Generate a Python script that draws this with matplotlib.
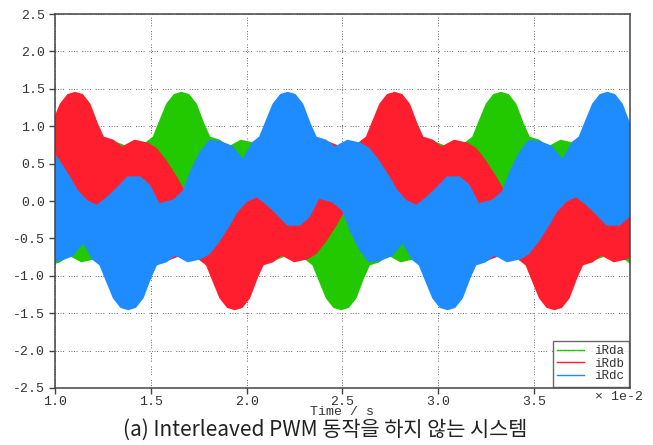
import numpy as np
import matplotlib
matplotlib.use("Agg")
import matplotlib.pyplot as plt
from matplotlib.lines import Line2D

plt.rcParams['axes.unicode_minus'] = False

# envelope of each switched current (time in 1e-2 s), upper and lower edges
ia_up_t = [0.94, 0.99, 1.06, 1.11, 1.15, 1.20, 1.25, 1.31, 1.37, 1.425, 1.475, 1.51, 1.54, 1.58, 1.62, 1.66,
           1.70, 1.74, 1.78, 1.81, 1.86, 1.905, 1.97, 2.04, 2.085, 2.135, 2.19, 2.23, 2.28, 2.33, 2.38, 2.43,
           2.49, 2.557, 2.607, 2.657, 2.727, 2.777, 2.817, 2.867, 2.917, 2.977, 3.037, 3.092, 3.142, 3.177,
           3.207, 3.247, 3.287, 3.327, 3.367, 3.407, 3.447, 3.477, 3.527, 3.572, 3.637, 3.707, 3.752, 3.802,
           3.857, 3.897, 3.947, 3.997, 4.047]
ia_up_v = [0.22, -0.03, 0.02, 0.13, 0.40, 0.66, 0.82, 0.80, 0.74, 0.57, 0.79, 0.86, 1.05, 1.30, 1.43, 1.46,
           1.43, 1.30, 1.03, 0.86, 0.82, 0.73, 0.82, 0.78, 0.71, 0.55, 0.33, 0.15, 0.01, -0.05, 0.05, 0.17,
           0.33, 0.33, 0.22, -0.03, 0.02, 0.13, 0.40, 0.66, 0.82, 0.80, 0.74, 0.57, 0.79, 0.86,
           1.05, 1.30, 1.43, 1.46, 1.43, 1.30, 1.03, 0.86, 0.82, 0.73, 0.82, 0.78, 0.71, 0.55,
           0.33, 0.15, 0.01, -0.05, 0.05]
ia_lo_t = [0.947, 0.977, 1.027, 1.072, 1.137, 1.207, 1.252, 1.302, 1.357, 1.397, 1.447, 1.497, 1.547, 1.597,
           1.657, 1.723, 1.773, 1.823, 1.893, 1.943, 1.983, 2.033, 2.083, 2.143, 2.203, 2.258, 2.308, 2.343,
           2.373, 2.413, 2.453, 2.493, 2.533, 2.573, 2.613, 2.643, 2.693, 2.738, 2.803, 2.873, 2.918, 2.968,
           3.023, 3.063, 3.113, 3.163, 3.213, 3.263, 3.323, 3.39, 3.44, 3.49, 3.56, 3.61, 3.65, 3.70, 3.75,
           3.81, 3.87, 3.925, 3.975, 4.01]
ia_lo_v = [-1.03, -0.86, -0.82, -0.73, -0.82, -0.78, -0.71, -0.55, -0.33, -0.15, -0.01, 0.05, -0.05, -0.17,
           -0.33, -0.33, -0.22, 0.03, -0.02, -0.13, -0.40, -0.66, -0.82, -0.80, -0.74, -0.57, -0.79, -0.86,
           -1.05, -1.30, -1.43, -1.46, -1.43, -1.30, -1.03, -0.86, -0.82, -0.73, -0.82, -0.78, -0.71, -0.55,
           -0.33, -0.15, -0.01, 0.05, -0.05, -0.17, -0.33, -0.33, -0.22, 0.03, -0.02, -0.13, -0.40, -0.66, -0.82,
           -0.80, -0.74, -0.57, -0.79, -0.86]

ib_up_t = [0.955, 0.985, 1.025, 1.065, 1.105, 1.145, 1.185, 1.225, 1.255, 1.305, 1.35, 1.415, 1.485, 1.53,
           1.58, 1.635, 1.675, 1.725, 1.775, 1.825, 1.875, 1.935, 2.002, 2.052, 2.102, 2.172, 2.222, 2.262,
           2.312, 2.362, 2.422, 2.482, 2.537, 2.587, 2.622, 2.652, 2.692, 2.732, 2.772, 2.812, 2.852, 2.892,
           2.922, 2.972, 3.017, 3.082, 3.152, 3.197, 3.247, 3.302, 3.342, 3.392, 3.442, 3.492, 3.542, 3.602,
           3.669, 3.719, 3.769, 3.839, 3.889, 3.929, 3.979, 4.029]
ib_up_v = [0.86, 1.05, 1.30, 1.43, 1.46, 1.43, 1.30, 1.03, 0.86, 0.82, 0.73, 0.82, 0.78, 0.71,
           0.55, 0.33, 0.15, 0.01, -0.05, 0.05, 0.17, 0.33, 0.33, 0.22, -0.03, 0.02, 0.13, 0.40,
           0.66, 0.82, 0.80, 0.74, 0.57, 0.79, 0.86, 1.05, 1.30, 1.43, 1.46, 1.43, 1.30, 1.03,
           0.86, 0.82, 0.73, 0.82, 0.78, 0.71, 0.55, 0.33, 0.15, 0.01, -0.05, 0.05, 0.17, 0.33,
           0.33, 0.22, -0.03, 0.02, 0.13, 0.40, 0.66, 0.82]
ib_lo_t = [0.942, 0.992, 1.042, 1.102, 1.168, 1.218, 1.268, 1.338, 1.388, 1.428, 1.478, 1.528, 1.588, 1.648,
           1.703, 1.753, 1.788, 1.818, 1.858, 1.898, 1.938, 1.978, 2.018, 2.058, 2.088, 2.138, 2.183, 2.248,
           2.318, 2.363, 2.413, 2.468, 2.508, 2.558, 2.608, 2.658, 2.708, 2.768, 2.835, 2.885, 2.935, 3.005,
           3.055, 3.095, 3.145, 3.195, 3.255, 3.315, 3.37, 3.42, 3.455, 3.485, 3.525, 3.565, 3.605, 3.645,
           3.685, 3.725, 3.755, 3.805, 3.85, 3.915, 3.985, 4.03]
ib_lo_v = [0.05, -0.05, -0.17, -0.33, -0.33, -0.22, 0.03, -0.02, -0.13, -0.40, -0.66, -0.82, -0.80, -0.74,
           -0.57, -0.79, -0.86, -1.05, -1.30, -1.43, -1.46, -1.43, -1.30, -1.03, -0.86, -0.82, -0.73, -0.82,
           -0.78, -0.71, -0.55, -0.33, -0.15, -0.01, 0.05, -0.05, -0.17, -0.33, -0.33, -0.22, 0.03, -0.02,
           -0.13, -0.40, -0.66, -0.82, -0.80, -0.74, -0.57, -0.79, -0.86, -1.05, -1.30, -1.43, -1.46, -1.43,
           -1.30, -1.03, -0.86, -0.82, -0.73, -0.82, -0.78, -0.71]

ic_up_t = [0.928, 0.973, 1.023, 1.078, 1.118, 1.168, 1.218, 1.268, 1.318, 1.378, 1.445, 1.495, 1.545, 1.615,
           1.665, 1.705, 1.755, 1.805, 1.865, 1.925, 1.98, 2.03, 2.065, 2.095, 2.135, 2.175, 2.215, 2.255,
           2.295, 2.335, 2.365, 2.415, 2.46, 2.525, 2.595, 2.64, 2.69, 2.745, 2.785, 2.835, 2.885, 2.935,
           2.985, 3.045, 3.112, 3.162, 3.212, 3.282, 3.332, 3.372, 3.422, 3.472, 3.532, 3.592, 3.647, 3.697,
           3.732, 3.762, 3.802, 3.842, 3.882, 3.922, 3.962, 4.002, 4.032]
ic_up_v = [0.78, 0.71, 0.55, 0.33, 0.15, 0.01, -0.05, 0.05, 0.17, 0.33, 0.33, 0.22, -0.03, 0.02,
           0.13, 0.40, 0.66, 0.82, 0.80, 0.74, 0.57, 0.79, 0.86, 1.05, 1.30, 1.43, 1.46, 1.43,
           1.30, 1.03, 0.86, 0.82, 0.73, 0.82, 0.78, 0.71, 0.55, 0.33, 0.15, 0.01, -0.05, 0.05,
           0.17, 0.33, 0.33, 0.22, -0.03, 0.02, 0.13, 0.40, 0.66, 0.82, 0.80, 0.74, 0.57, 0.79,
           0.86, 1.05, 1.30, 1.43, 1.46, 1.43, 1.30, 1.03, 0.86]
ic_lo_t = [0.922, 0.972, 1.032, 1.092, 1.147, 1.197, 1.232, 1.262, 1.302, 1.342, 1.382, 1.422, 1.462, 1.502,
           1.532, 1.582, 1.627, 1.692, 1.762, 1.807, 1.857, 1.912, 1.952, 2.002, 2.052, 2.102, 2.152, 2.212,
           2.278, 2.328, 2.378, 2.448, 2.498, 2.538, 2.588, 2.638, 2.698, 2.758, 2.813, 2.863, 2.898, 2.928,
           2.968, 3.008, 3.048, 3.088, 3.128, 3.168, 3.198, 3.248, 3.293, 3.358, 3.428, 3.473, 3.523, 3.578,
           3.618, 3.668, 3.718, 3.768, 3.818, 3.878, 3.945, 3.995, 4.045]
ic_lo_v = [-0.66, -0.82, -0.80, -0.74, -0.57, -0.79, -0.86, -1.05, -1.30, -1.43, -1.46, -1.43, -1.30, -1.03,
           -0.86, -0.82, -0.73, -0.82, -0.78, -0.71, -0.55, -0.33, -0.15, -0.01, 0.05, -0.05, -0.17, -0.33,
           -0.33, -0.22, 0.03, -0.02, -0.13, -0.40, -0.66, -0.82, -0.80, -0.74, -0.57, -0.79, -0.86, -1.05,
           -1.30, -1.43, -1.46, -1.43, -1.30, -1.03, -0.86, -0.82, -0.73, -0.82, -0.78, -0.71, -0.55, -0.33,
           -0.15, -0.01, 0.05, -0.05, -0.17, -0.33, -0.33, -0.22, 0.03]

labels = ["iRda", "iRdb", "iRdc"]
colors = ["#22c800", "#ff1e2d", "#1e8cff"]
x_ticks = [1.0, 1.5, 2.0, 2.5, 3.0, 3.5]
y_ticks = [2.5, 2.0, 1.5, 1.0, 0.5, 0.0, -0.5, -1.0, -1.5, -2.0, -2.5]

series = [(ia_up_t, ia_up_v, ia_lo_t, ia_lo_v),
          (ib_up_t, ib_up_v, ib_lo_t, ib_lo_v),
          (ic_up_t, ic_up_v, ic_lo_t, ic_lo_v)]

tick_font = 'Liberation Mono'
txt_col = '#333333'

fig = plt.figure(figsize=(6.53, 4.45), dpi=100)
ax = fig.add_axes([0.0842, 0.1281, 0.8806, 0.8404])

for (ut, uv, lt, lv), c in zip(series, colors):
    xs = np.concatenate([ut, lt[::-1]])
    ys = np.concatenate([uv, lv[::-1]])
    ax.fill(xs, ys, color=c, lw=0, zorder=2)

ax.set_xlim(1.0, 4.0)
ax.set_ylim(-2.5, 2.5)
ax.set_xticks(x_ticks)
ax.set_yticks(y_ticks)
ax.set_xticklabels([f"{v:.1f}" for v in x_ticks], family=tick_font)
ax.set_yticklabels([f"{v:.1f}" for v in y_ticks], family=tick_font)
ax.tick_params(direction='out', length=4.5, width=1, color='#444444',
               labelsize=9.5, labelcolor=txt_col)
ax.tick_params(axis='y', pad=2.5)
ax.tick_params(axis='x', pad=1)
ax.grid(True, color='#666666', linestyle=(0, (1, 1.6, 1, 1.6, 1, 1.6, 1, 5)), linewidth=0.7)
ax.set_axisbelow(True)
for s in ax.spines.values():
    s.set_color('#444444')
    s.set_linewidth(1.1)

ax.set_xlabel("Time / s", fontsize=9.5, family=tick_font, color=txt_col, labelpad=-1)
fig.text(0.911, 0.108, "× 1e-2", fontsize=9.5, family=tick_font, color=txt_col,
         ha='left', va='center')

handles = [Line2D([0], [0], color=c, lw=1.0) for c in colors]
leg = ax.legend(handles, labels, loc='lower right', frameon=True, fancybox=False,
                prop={'family': tick_font, 'size': 9},
                handlelength=2.2, handletextpad=0.8, borderpad=0.35, labelspacing=0.05,
                borderaxespad=0.1)
leg.get_frame().set_edgecolor('#444444')
leg.get_frame().set_linewidth(1.0)
for t in leg.get_texts():
    t.set_color(txt_col)

fig.text(0.498, 0.035, "(a) Interleaved PWM 동작을 하지 않는 시스템", fontsize=15,
         family=['Noto Sans CJK KR', 'DejaVu Sans'], ha='center', va='center', color='#222222')

fig.savefig("out.png", dpi=100)
